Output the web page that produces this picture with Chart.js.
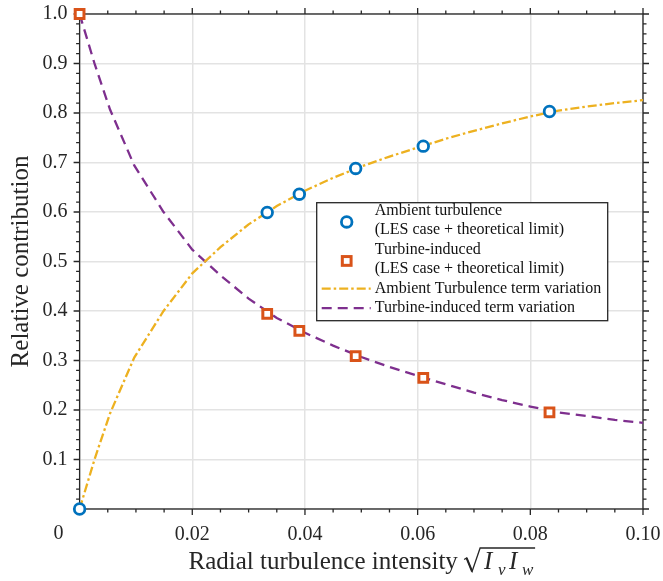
<!DOCTYPE html>
<html>
<head>
<meta charset="utf-8">
<script src="https://cdn.jsdelivr.net/npm/chart.js@4.4.1/dist/chart.umd.min.js"></script>
<style>
  html, body { margin: 0; padding: 0; background: #fff; }
  #wrap { width: 663px; height: 581px; }
</style>
</head>
<body>
<div id="wrap"><canvas id="contribChart" width="663" height="581"></canvas></div>
<script>
// Term variation curves (sampled along sqrt(Iv*Iw))
const curveX = [0, 0.0027, 0.0054, 0.0097, 0.0149, 0.02, 0.025, 0.03, 0.035, 0.04, 0.045,
                0.05, 0.055, 0.06, 0.065, 0.07, 0.075, 0.08, 0.085, 0.09, 0.095, 0.1];
const ambientCurve = [0, 0.102, 0.193, 0.306, 0.400, 0.476, 0.529, 0.575, 0.612, 0.643, 0.669,
                      0.692, 0.712, 0.730, 0.748, 0.764, 0.779, 0.793, 0.805, 0.813, 0.820, 0.826];
const turbineCurve = [1.0, 0.898, 0.807, 0.694, 0.600, 0.524, 0.472, 0.425, 0.386, 0.356, 0.330,
                      0.307, 0.287, 0.269, 0.252, 0.235, 0.220, 0.207, 0.195, 0.188, 0.180, 0.174];

// LES cases + theoretical limit
const lesX = [0, 0.0333, 0.0390, 0.0490, 0.0610, 0.0834];
const ambientLes = [0, 0.599, 0.636, 0.688, 0.733, 0.803];
const turbineLes = [1.0, 0.394, 0.360, 0.309, 0.265, 0.195];

const xTicks = [0, 0.02, 0.04, 0.06, 0.08, 0.10];
const yTicks = [0, 0.1, 0.2, 0.3, 0.4, 0.5, 0.6, 0.7, 0.8, 0.9, 1.0];

const FONT = '"Liberation Serif", "Times New Roman", serif';
const AXIS = '#262626';
const BLUE = '#0072BD', RED = '#D95319', YELLOW = '#EDB120', PURPLE = '#7E2F8E';

function pts(xs, ys) { return xs.map((x, i) => ({ x: x, y: ys[i] })); }

// box, outward ticks, axis titles and the legend
const framePlugin = {
  id: 'framePlugin',
  beforeDatasetsDraw(chart) {
    const { ctx, chartArea: a, scales } = chart;
    const xs = scales.x, ys = scales.y;
    ctx.save();
    ctx.strokeStyle = AXIS;
    ctx.lineWidth = 1.3;
    ctx.strokeRect(a.left, a.top, a.right - a.left, a.bottom - a.top);
    ctx.beginPath();
    for (let i = 0; i <= 20; i++) {
      const px = xs.getPixelForValue(i * 0.005);
      const len = i % 4 === 0 ? 6 : 3.5;
      ctx.moveTo(px, a.bottom); ctx.lineTo(px, a.bottom + len);
      ctx.moveTo(px, a.top); ctx.lineTo(px, a.top - len);
    }
    for (let i = 0; i <= 50; i++) {
      const py = ys.getPixelForValue(i * 0.02);
      const len = i % 5 === 0 ? 6 : 3.5;
      ctx.moveTo(a.left, py); ctx.lineTo(a.left - len, py);
      ctx.moveTo(a.right, py); ctx.lineTo(a.right + len, py);
    }
    ctx.stroke();
    ctx.restore();
  },
  afterDraw(chart) {
    const { ctx, chartArea: a, scales } = chart;
    ctx.save();
    ctx.fillStyle = AXIS;

    // "0" of the x axis sits left of the corner
    ctx.font = '20px ' + FONT;
    ctx.textAlign = 'center';
    ctx.textBaseline = 'middle';
    ctx.fillText('0', scales.x.getPixelForValue(0) - 21, a.bottom + 25);

    // y title
    ctx.save();
    ctx.font = '25px ' + FONT;
    ctx.translate(28, (a.top + a.bottom) / 2);
    ctx.rotate(-Math.PI / 2);
    ctx.textAlign = 'center';
    ctx.textBaseline = 'alphabetic';
    ctx.fillText('Relative contribution', 0, 0);
    ctx.restore();

    // x title with sqrt(Iv Iw)
    const label = 'Radial turbulence intensity ';
    ctx.font = '25px ' + FONT;
    ctx.textAlign = 'left';
    ctx.textBaseline = 'alphabetic';
    const tw = ctx.measureText(label).width;
    const total = tw + 72;
    const by = 569;
    const sx = (a.left + a.right) / 2 - total / 2 + 1;
    ctx.fillText(label, sx, by);
    const r = sx + tw;
    ctx.strokeStyle = AXIS;
    ctx.lineWidth = 1.3;
    ctx.beginPath();
    ctx.moveTo(r, by - 9.5);
    ctx.lineTo(r + 2.5, by - 11);
    ctx.lineTo(r + 8, by + 2.5);
    ctx.lineTo(r + 16, by - 21);
    ctx.lineTo(r + 71, by - 21);
    ctx.stroke();
    ctx.beginPath();
    ctx.lineWidth = 2;
    ctx.moveTo(r + 2.5, by - 11);
    ctx.lineTo(r + 8, by + 2.5);
    ctx.stroke();
    ctx.font = 'italic 25px ' + FONT;
    ctx.fillText('I', r + 20, by);
    ctx.fillText('I', r + 45, by);
    ctx.font = 'italic 17px ' + FONT;
    ctx.fillText('v', r + 34, by + 6);
    ctx.fillText('w', r + 58, by + 6);

    // legend
    const L = 316.7, T = 202.7, W = 291, H = 118;
    ctx.fillStyle = '#fff';
    ctx.fillRect(L, T, W, H);
    ctx.strokeStyle = AXIS;
    ctx.lineWidth = 1.3;
    ctx.strokeRect(L, T, W, H);
    const rows = [0, 1, 2, 3, 4, 5].map(k => T + 8 + 19.5 * k);
    const texts = ['Ambient turbulence', '(LES case + theoretical limit)',
                   'Turbine-induced', '(LES case + theoretical limit)',
                   'Ambient Turbulence term variation', 'Turbine-induced term variation'];
    ctx.fillStyle = '#111';
    ctx.font = '16px ' + FONT;
    ctx.textBaseline = 'middle';
    texts.forEach((t, k) => ctx.fillText(t, L + 58, rows[k]));

    const mx = L + 30;
    const ds = chart.data.datasets;
    // circle marker
    ctx.beginPath();
    ctx.arc(mx, (rows[0] + rows[1]) / 2 + 1.5, ds[0].pointRadius, 0, Math.PI * 2);
    ctx.fillStyle = '#fff';
    ctx.fill();
    ctx.strokeStyle = ds[0].borderColor;
    ctx.lineWidth = ds[0].borderWidth;
    ctx.stroke();
    // square marker
    const s = Math.SQRT1_2 * ds[1].pointRadius;
    const my = (rows[2] + rows[3]) / 2 + 1.5;
    ctx.fillStyle = '#fff';
    ctx.fillRect(mx - s, my - s, 2 * s, 2 * s);
    ctx.strokeStyle = ds[1].borderColor;
    ctx.lineWidth = ds[1].borderWidth;
    ctx.strokeRect(mx - s, my - s, 2 * s, 2 * s);
    // line samples
    [2, 3].forEach((d, k) => {
      ctx.beginPath();
      ctx.setLineDash(ds[d].borderDash);
      ctx.strokeStyle = ds[d].borderColor;
      ctx.lineWidth = ds[d].borderWidth;
      ctx.moveTo(L + 5, rows[4 + k]);
      ctx.lineTo(L + 54, rows[4 + k]);
      ctx.stroke();
    });
    ctx.restore();
  }
};

const ctx = document.getElementById('contribChart').getContext('2d');
const myChart = new Chart(ctx, {
  type: 'scatter',
  data: {
    datasets: [
      {
        label: 'Ambient turbulence (LES case + theoretical limit)',
        data: pts(lesX, ambientLes),
        pointStyle: 'circle',
        pointRadius: 5.3,
        borderWidth: 2.8,
        borderColor: BLUE,
        backgroundColor: '#fff',
        showLine: false,
        clip: false,
        order: 0
      },
      {
        label: 'Turbine-induced (LES case + theoretical limit)',
        data: pts(lesX, turbineLes),
        pointStyle: 'rect',
        pointRadius: 6.2,
        borderWidth: 3,
        borderColor: RED,
        backgroundColor: '#fff',
        showLine: false,
        clip: false,
        order: 0
      },
      {
        label: 'Ambient Turbulence term variation',
        data: pts(curveX, ambientCurve),
        showLine: true,
        pointRadius: 0,
        borderColor: YELLOW,
        borderWidth: 2.3,
        borderDash: [9, 3, 2.5, 3],
        tension: 0,
        order: 1
      },
      {
        label: 'Turbine-induced term variation',
        data: pts(curveX, turbineCurve),
        showLine: true,
        pointRadius: 0,
        borderColor: PURPLE,
        borderWidth: 2.3,
        borderDash: [10, 6],
        tension: 0,
        order: 1
      }
    ]
  },
  options: {
    responsive: false,
    animation: false,
    devicePixelRatio: 1,
    layout: { padding: { top: 14, right: 20, left: 0, bottom: 0 } },
    plugins: {
      legend: { display: false },
      tooltip: { enabled: false }
    },
    scales: {
      x: {
        type: 'linear',
        min: 0,
        max: 0.1,
        afterBuildTicks: s => { s.ticks = xTicks.map(v => ({ value: v })); },
        afterFit: s => { s.height = 72; s.paddingLeft = 0; s.paddingRight = 0; },
        border: { display: false },
        grid: { color: '#e3e3e3', lineWidth: 1.5, drawTicks: false },
        ticks: {
          autoSkip: false,
          maxRotation: 0,
          padding: 14,
          color: AXIS,
          font: { family: FONT, size: 20 },
          callback: v => (v === 0 ? '' : v.toFixed(2))
        }
      },
      y: {
        type: 'linear',
        min: 0,
        max: 1,
        afterBuildTicks: s => { s.ticks = yTicks.map(v => ({ value: v })); },
        afterFit: s => { s.width = 79.6; s.paddingTop = 0; s.paddingBottom = 0; },
        border: { display: false },
        grid: { color: '#e3e3e3', lineWidth: 1.5, drawTicks: false },
        ticks: {
          autoSkip: false,
          padding: 12,
          color: AXIS,
          font: { family: FONT, size: 20 },
          callback: v => (v === 0 ? '' : v.toFixed(1))
        }
      }
    }
  },
  plugins: [framePlugin]
});
</script>
</body>
</html>
